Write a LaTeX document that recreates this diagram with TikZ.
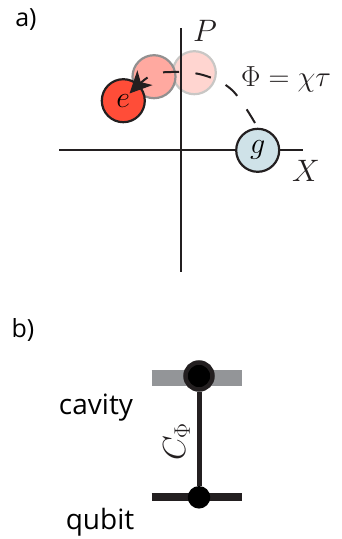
\RequirePackage{fix-cm}
\documentclass[tikz,border=0pt]{standalone}
\usepackage{fontspec}
\setsansfont{Open Sans}
\usetikzlibrary{arrows.meta}
\definecolor{ink}{HTML}{231F20}
\definecolor{barg}{HTML}{939598}
\definecolor{gfill}{HTML}{CFE2E8}
\definecolor{efill}{HTML}{FF4D38}
\definecolor{midfill}{HTML}{FFA9A0}
\definecolor{midedge}{HTML}{929090}
\definecolor{lightfill}{HTML}{FFD5D0}
\definecolor{lightedge}{HTML}{C9C7C5}
\tikzset{
  state/.style={circle,draw=ink,line width=2.2pt,minimum size=43pt,inner sep=0pt,font=\fontsize{30}{30}\selectfont},
  ghost/.style={circle,line width=2.2pt,minimum size=43pt,inner sep=0pt},
  axisline/.style={draw=ink,line width=2.2pt},
  lab/.style={font=\sffamily\fontsize{28}{32}\selectfont,text=black,inner sep=0pt},
  partlab/.style={font=\sffamily\fontsize{25}{30}\selectfont,text=black,inner sep=0pt},
  mathlab/.style={font=\fontsize{31}{34}\selectfont,text=ink,inner sep=0pt},
  phase/.style={draw=ink,line width=2pt,dash pattern=on 16pt off 16.5pt,-{Stealth[length=22pt,width=21pt,inset=6pt]}},
}
\begin{document}
\begin{tikzpicture}[x=1pt,y=-1pt]
\useasboundingbox (0,0) rectangle (342,539);
% ghost states
\node[ghost,draw=lightedge,fill=lightfill] (light) at (194.3,72.7) {};
\node[ghost,draw=midedge,fill=midfill] (mid) at (154,76.7) {};
% axes
\coordinate (xa) at (59,150.3);
\coordinate (xb) at (303,150.3);
\coordinate (pa) at (181,28);
\coordinate (pb) at (181,272);
\draw[axisline] (xa) -- (xb);
\draw[axisline] (pa) -- (pb);
% states
\node[state,fill=gfill] (g) at (257.7,150.3) {$g$};
\node[state,fill=efill] (e) at (123.3,100.7) {$e$};
% phase arc
\coordinate (gstart) at (255,123);
\coordinate (earrow) at (129.5,93.5);
\draw[phase] plot[smooth,tension=0.6] coordinates {(gstart) (232,90) (203,75) (171,72) (150,76) (earrow)};
% labels
\node[mathlab] (plabel) at (205,31) {$P$};
\node[mathlab] (xlabel) at (306,171) {$X$};
\node[mathlab,font=\fontsize{29}{30}\selectfont,anchor=west] (philabel) at (241,79) {$\Phi=\chi\tau$};
\node[partlab] (alabel) at (26,20) {a)};
\node[partlab] (blabel) at (23,330) {b)};
% part b
\coordinate (c1) at (151.7,377.8);
\coordinate (c2) at (242.3,377.8);
\coordinate (q1) at (151.7,497);
\coordinate (q2) at (242.3,497);
\draw[barg,line width=15.6pt] (c1) -- (c2);
\draw[ink,line width=7.3pt] (q1) -- (q2);
\node[circle,fill=black,draw=ink,line width=4.5pt,minimum size=27pt,inner sep=0pt] (cdot) at (199,376) {};
\node[circle,fill=black,minimum size=22.5pt,inner sep=0pt] (qdot) at (199,497.3) {};
\draw[ink,line width=5pt] (cdot) -- (qdot);
\node[mathlab,font=\fontsize{32}{34}\selectfont,rotate=90] (clabel) at (176.5,441.5) {$C_\Phi$};
\node[lab] (cavity) at (96,408) {cavity};
\node[lab] (qubit) at (100,522) {qubit};
\end{tikzpicture}
\end{document}
